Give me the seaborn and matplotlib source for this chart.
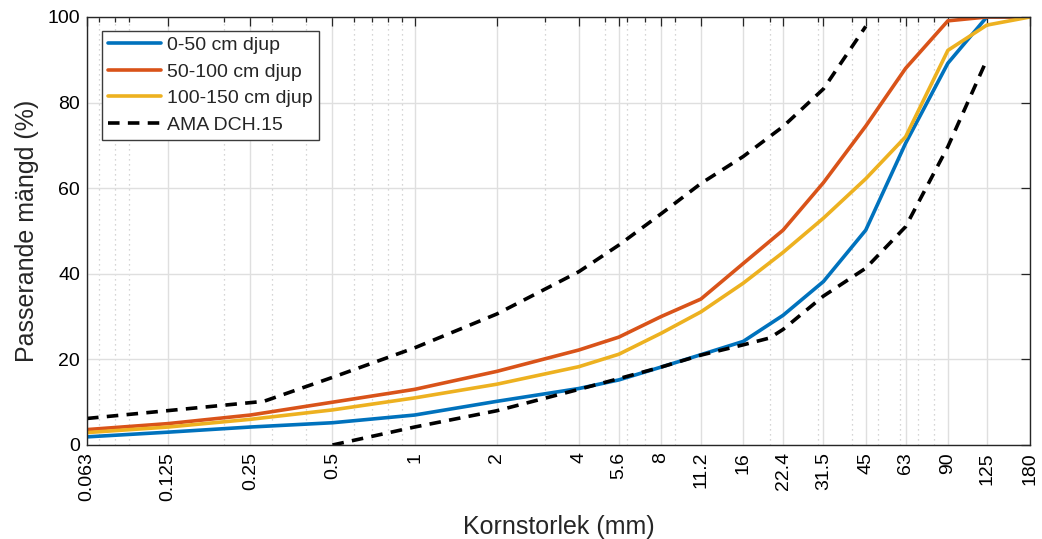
import matplotlib
matplotlib.use("Agg")
import matplotlib.pyplot as plt
from matplotlib.ticker import FixedLocator, LogLocator, NullFormatter
import numpy as np
import pandas as pd
import seaborn as sns

# Sieve sizes (mm) and passing percentages for the three depth samples
sieve = [0.063, 0.125, 0.25, 0.5, 1, 2, 4, 5.6, 8, 11.2, 16, 22.4, 31.5, 45, 63, 90, 125, 180]
depth_0_50 = [1.9, 3.0, 4.2, 5.2, 7, 10.2, 13.2, 15.2, 18.2, 21.1, 24.2, 30.3, 38.2, 50.2, 70.5, 89.2, 100, 100]
depth_50_100 = [3.6, 5.0, 7.0, 10.0, 13.0, 17.2, 22.2, 25.2, 30.0, 34.1, 42.4, 50.2, 61.3, 74.5, 88.0, 99.1, 100, 100]
depth_100_150 = [2.9, 4.2, 6.0, 8.2, 11.0, 14.2, 18.3, 21.2, 26.1, 31.1, 37.8, 45.0, 53.0, 62.2, 72.0, 92.2, 98.1, 100]

# AMA DCH.15 grading envelope (upper and lower limit)
ama_upper_x = [0.063, 0.28, 0.5, 1, 2, 4, 5.6, 8, 11.2, 16, 22.4, 31.5, 45]
ama_upper_y = [6.2, 10.2, 15.8, 22.7, 30.6, 40.5, 46.7, 54.0, 61.1, 67.4, 74.4, 83.2, 97.8]
ama_lower_x = [0.5, 1, 2, 4, 5.6, 8, 11.2, 16, 20, 22.4, 31.5, 45, 63, 90, 125]
ama_lower_y = [0, 4.2, 8.0, 13.0, 15.5, 18.2, 21.0, 23.4, 25.0, 27.0, 34.8, 41.3, 51.0, 69.7, 90.0]

xtick_values = [0.063, 0.125, 0.25, 0.5, 1, 2, 4, 5.6, 8, 11.2, 16, 22.4, 31.5, 45, 63, 90, 125, 180]
xtick_labels = ["0.063", "0.125", "0.25", "0.5", "1", "2", "4", "5.6", "8", "11.2",
                "16", "22.4", "31.5", "45", "63", "90", "125", "180"]
ytick_values = [0, 20, 40, 60, 80, 100]

series_names = ["0-50 cm djup", "50-100 cm djup", "100-150 cm djup"]
series_colors = ["#0072BD", "#D95319", "#EDB120"]

sns.set_theme(style="white")
plt.rcParams["font.family"] = ["Liberation Sans", "DejaVu Sans"]

fig = plt.figure(figsize=(10.42, 5.39), dpi=100)
ax = fig.add_axes([0.0835, 0.1744, 0.905, 0.7941])

samples = pd.DataFrame({
    "size": sieve * 3,
    "passing": depth_0_50 + depth_50_100 + depth_100_150,
    "serie": sum([[n] * len(sieve) for n in series_names], []),
})
sns.lineplot(data=samples, x="size", y="passing", hue="serie",
             hue_order=series_names, palette=series_colors,
             linewidth=2.6, ax=ax, estimator=None, sort=False)

env_dashes = (3.2, 2.3)
sns.lineplot(x=ama_upper_x, y=ama_upper_y, ax=ax, label="AMA DCH.15",
             color="black", linewidth=2.6, estimator=None, sort=False)
sns.lineplot(x=ama_lower_x, y=ama_lower_y, ax=ax,
             color="black", linewidth=2.6, estimator=None, sort=False)
for ln in ax.lines[-2:]:
    ln.set_dashes(env_dashes)

ax.set_xscale("log")
ax.set_xlim(0.063, 180)
ax.set_ylim(0, 100)

ax.xaxis.set_major_locator(FixedLocator(xtick_values))
ax.set_xticklabels(xtick_labels, rotation=90, ha="center", va="top")
ax.xaxis.set_minor_locator(LogLocator(base=10, subs=np.arange(2, 10)))
ax.xaxis.set_minor_formatter(NullFormatter())
ax.set_yticks(ytick_values)

ax.grid(True, which="major", axis="both", color="#DFDFDF", linewidth=1.0, linestyle="-")
ax.grid(True, which="minor", axis="x", color="#C8C8C8", linewidth=0.9, linestyle=(0, (1, 3)))
ax.set_axisbelow(True)

ax.tick_params(axis="both", which="both", direction="in", top=True, right=True,
               colors="#262626", labelcolor="black", labelsize=14, width=0.9)
ax.tick_params(axis="both", which="major", length=6.5, pad=5)
ax.tick_params(axis="x", which="minor", length=3.8)
for s in ax.spines.values():
    s.set_color("#262626")
    s.set_linewidth(1.0)

ax.set_xlabel("Kornstorlek (mm)", fontsize=18, labelpad=10)
ax.set_ylabel("Passerande mängd (%)", fontsize=18, labelpad=6)

handles, labels = ax.get_legend_handles_labels()
handles[-1].set_dashes(env_dashes)
leg = ax.legend(handles, labels, loc="upper left", bbox_to_anchor=(0.016, 0.968),
                fontsize=14, frameon=True, fancybox=False, framealpha=1,
                edgecolor="#3C3C3C", handlelength=2.75, handletextpad=0.3,
                borderpad=0.3, labelspacing=0.46, borderaxespad=0)
leg.get_frame().set_linewidth(1.0)
for h in leg.get_lines():
    h.set_linewidth(2.6)

fig.savefig("out.png", dpi=100)
